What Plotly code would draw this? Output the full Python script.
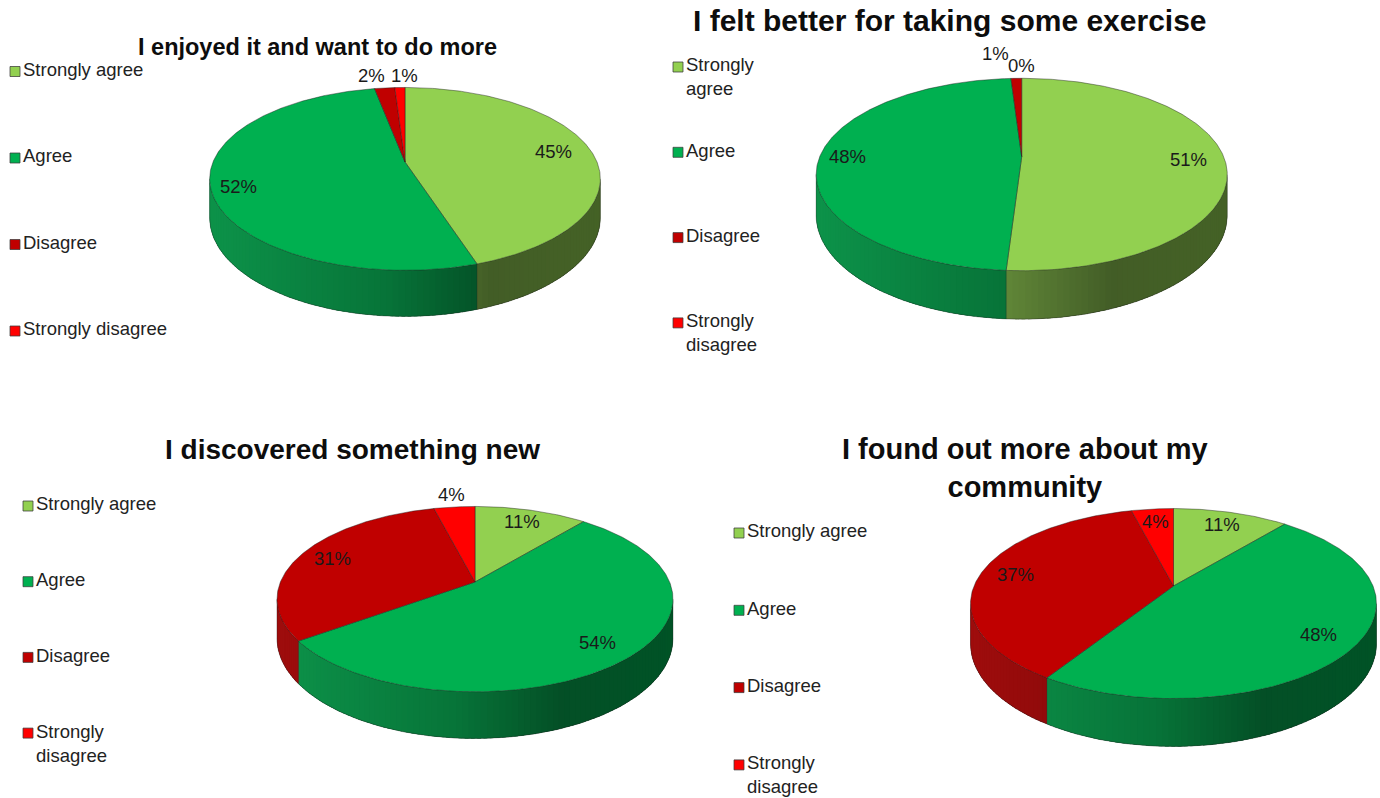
import numpy as np
import plotly.graph_objects as go

# ---------------------------------------------------------------- data
categories = ["Strongly agree", "Agree", "Disagree", "Strongly disagree"]

enjoyed_pct = [45, 52, 2, 1]
felt_better_pct = [51, 48, 1, 0]
discovered_pct = [11, 54, 31, 4]
community_pct = [11, 48, 37, 4]

titles = [
    "I enjoyed it and want to do more",
    "I felt better for taking some exercise",
    "I discovered something new",
    "I found out more about my<br>community",
]

legend_texts = [
    ["Strongly agree", "Agree", "Disagree", "Strongly disagree"],
    ["Strongly<br>agree", "Agree", "Disagree", "Strongly<br>disagree"],
    ["Strongly agree", "Agree", "Disagree", "Strongly<br>disagree"],
    ["Strongly agree", "Agree", "Disagree", "Strongly<br>disagree"],
]

series = [enjoyed_pct, felt_better_pct, discovered_pct, community_pct]

# ---------------------------------------------------------------- styling
TOP_COLORS = ["#92D050", "#00B050", "#C00000", "#FF0000"]
FONT = "Liberation Sans, Arial, Helvetica, sans-serif"
W, H = 1380, 798

K = 0.185            # perspective strength of the tilted disc
TILT = 0.46          # vertical squash of the disc
DEPTH = 0.24 * (1 - K)
XR, YLO, YHI = 1.03, 1.0, 0.75
XMAX = 1 / np.sqrt(1 - K * K)
THETA_L = np.degrees(np.arccos(-K))        # right silhouette
THETA_R = 360 - THETA_L                    # left silhouette

# layout of each panel: pie centre (px), px per unit, title, legend, label placement
panels = [
    dict(cx=405, cy=162, scale=192, title_xy=(317.5, 47), title_size=23.5,
         leg_x=10, leg_y=71.5, leg_pitch=86.5,
         label_r=[0.80, 0.86, 1.2, 1.2], nudge={1: (0, -5), 2: (-10, 0), 3: (5, 0)}),
    dict(cx=1021.7, cy=156.7, scale=202, title_xy=(950, 20), title_size=30,
         leg_x=673, leg_y=67, leg_pitch=85.3,
         label_r=[0.82, 0.86, 1.2, 1.2], nudge={2: (-20, 12)}),
    dict(cx=475, cy=582, scale=194.6, title_xy=(352.5, 449), title_size=28,
         leg_x=23, leg_y=506, leg_pitch=75.7,
         label_r=[0.82, 0.82, 0.82, 1.2], nudge={}),
    dict(cx=1173.5, cy=586, scale=199.5, title_xy=(1024.5, 468.5), title_size=29,
         leg_x=734, leg_y=533, leg_pitch=77.3,
         label_r=[0.82, 0.82, 0.82, 0.82], nudge={}),
]


def project(rho, theta_deg):
    th = np.radians(theta_deg)
    X = rho * np.sin(th)
    Z = rho * np.cos(th)
    d = 1 + K * Z
    return X / d, TILT * Z / d, d


def shade(hex_color, t):
    """Side-wall colour: lit on the left, darkest towards the right."""
    f = np.interp(t, [0.0, 0.45, 0.72, 1.0], [0.76, 0.62, 0.43, 0.47])
    w = 0.05 * (1 - t)
    r, g, b = (int(hex_color[i:i + 2], 16) for i in (1, 3, 5))
    c = [min(255, int(round(v * f + 255 * w))) for v in (r, g, b)]
    return "rgb(%d,%d,%d)" % tuple(c)


def wall(t1, t2):
    """Polygon of the side wall between two angles."""
    th = np.linspace(t1, t2, max(2, int(np.ceil((t2 - t1) / 1.0)) + 1))
    x, y, d = project(1, th)
    yb = y - DEPTH / d
    return (np.concatenate([x, x[::-1], x[:1]]),
            np.concatenate([y, yb[::-1], y[:1]]))


fig = go.Figure()
annotations = []
shapes = []
layout_axes = {}

for i, (p, vals) in enumerate(zip(panels, series)):
    n = i + 1
    xa = "x" if n == 1 else "x%d" % n
    ya = "y" if n == 1 else "y%d" % n
    A = p["scale"]
    layout_axes["xaxis" if n == 1 else "xaxis%d" % n] = dict(
        domain=[(p["cx"] - XR * A) / W, (p["cx"] + XR * A) / W],
        range=[-XR, XR], visible=False, fixedrange=True, anchor=ya)
    layout_axes["yaxis" if n == 1 else "yaxis%d" % n] = dict(
        domain=[1 - (p["cy"] + YLO * A) / H, 1 - (p["cy"] - YHI * A) / H],
        range=[-YLO, YHI], visible=False, fixedrange=True, anchor=xa)

    total = float(sum(vals))
    bounds = np.concatenate([[0], np.cumsum(vals) / total * 360.0])

    # --- side walls: a base band per slice, then overlapping shaded strips
    for j in range(len(vals)):
        a, b = bounds[j], bounds[j + 1]
        lo, hi = max(a, THETA_L), min(b, THETA_R)
        if hi <= lo:
            continue
        xm, _, _ = project(1, 0.5 * (lo + hi))
        base = shade(TOP_COLORS[j], (xm + XMAX) / (2 * XMAX))
        wx, wy = wall(lo, hi)
        fig.add_trace(go.Scatter(
            x=wx, y=wy, mode="lines", fill="toself", fillcolor=base,
            line=dict(width=0), hoverinfo="skip", showlegend=False,
            xaxis=xa, yaxis=ya))
        steps = max(1, int(np.ceil((hi - lo) / 1.5)))
        edges = np.linspace(lo, hi, steps + 1)
        step = edges[1] - edges[0]
        for t1, t2 in zip(edges[:-1], edges[1:]):
            xm, _, _ = project(1, 0.5 * (t1 + t2))
            col = shade(TOP_COLORS[j], (xm + XMAX) / (2 * XMAX))
            wx, wy = wall(t1, min(hi, t2 + 0.6 * step))
            fig.add_trace(go.Scatter(
                x=wx, y=wy, mode="lines", fill="toself", fillcolor=col,
                line=dict(width=0), hoverinfo="skip", showlegend=False,
                xaxis=xa, yaxis=ya))

    # --- outline of the side wall
    th = np.linspace(THETA_L, THETA_R, 200)
    bx, by, bd = project(1, th)
    fig.add_trace(go.Scatter(
        x=bx, y=by - DEPTH / bd, mode="lines",
        line=dict(color="rgba(30,30,30,0.45)", width=0.8),
        hoverinfo="skip", showlegend=False, xaxis=xa, yaxis=ya))
    for tb in [THETA_L, THETA_R] + [v for v in bounds[1:-1] if THETA_L < v < THETA_R]:
        ex, ey, ed = project(1, tb)
        fig.add_trace(go.Scatter(
            x=[ex, ex], y=[ey, ey - DEPTH / ed], mode="lines",
            line=dict(color="rgba(30,30,30,0.4)", width=0.8),
            hoverinfo="skip", showlegend=False, xaxis=xa, yaxis=ya))

    # --- top faces of the slices
    for j in range(len(vals)):
        a, b = bounds[j], bounds[j + 1]
        if b - a <= 0:
            continue
        th = np.linspace(a, b, max(3, int(np.ceil((b - a) / 0.75)) + 1))
        ax_, ay_, _ = project(1, th)
        fig.add_trace(go.Scatter(
            x=np.concatenate([[0], ax_, [0]]),
            y=np.concatenate([[0], ay_, [0]]),
            mode="lines", fill="toself", fillcolor=TOP_COLORS[j],
            line=dict(color="rgba(30,30,30,0.55)", width=0.8),
            name=categories[j], hoverinfo="skip", showlegend=False,
            xaxis=xa, yaxis=ya))

    # --- percentage labels
    for j, v in enumerate(vals):
        mid = 0.5 * (bounds[j] + bounds[j + 1])
        lx, ly, _ = project(p["label_r"][j], mid)
        dx, dy = p["nudge"].get(j, (0, 0))
        annotations.append(dict(
            x=lx, y=ly, xref=xa, yref=ya, text="%d%%" % v, showarrow=False,
            xanchor="center", yanchor="middle", xshift=dx, yshift=dy,
            font=dict(family=FONT, size=18.5, color="#1a1a1a")))

    # --- title
    tx, ty = p["title_xy"]
    annotations.append(dict(
        x=tx / W, y=1 - ty / H, xref="paper", yref="paper", text=titles[i],
        showarrow=False, xanchor="center", yanchor="middle",
        font=dict(family=FONT, size=p["title_size"], color="#0d0d0d", weight="bold")))

    # --- legend: swatch + label per category
    for j, lab in enumerate(legend_texts[i]):
        yc = p["leg_y"] + j * p["leg_pitch"]
        sx = p["leg_x"]
        shapes.append(dict(
            type="rect", xref="paper", yref="paper",
            x0=sx / W, x1=(sx + 10) / W, y0=1 - (yc + 5) / H, y1=1 - (yc - 5) / H,
            fillcolor=TOP_COLORS[j], line=dict(color="rgba(60,60,60,0.75)", width=1)))
        annotations.append(dict(
            x=(sx + 13) / W, y=1 - (yc - 0.68 * 18.5) / H, xref="paper", yref="paper",
            text=lab, showarrow=False, xanchor="left", yanchor="top", align="left",
            borderpad=0, borderwidth=0,
            font=dict(family=FONT, size=18.5, color="#222222")))

fig.update_layout(
    width=W, height=H, autosize=False,
    margin=dict(l=0, r=0, t=0, b=0),
    paper_bgcolor="white", plot_bgcolor="rgba(0,0,0,0)",
    annotations=annotations, shapes=shapes, showlegend=False,
    **layout_axes)

fig.write_html("out.html", config={"displayModeBar": False})
